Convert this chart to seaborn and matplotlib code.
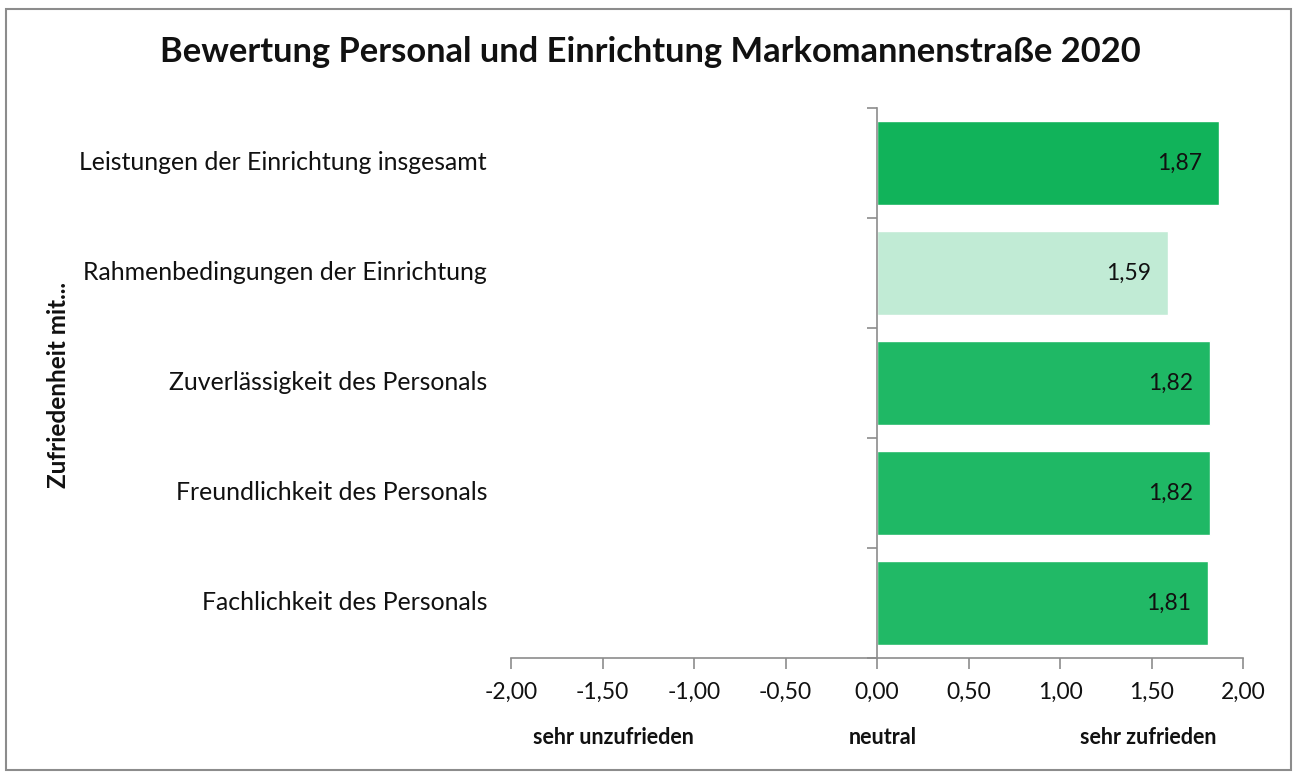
import matplotlib
matplotlib.use("Agg")
import matplotlib.pyplot as plt
import matplotlib.transforms as mtransforms
from matplotlib.patches import Rectangle
import seaborn as sns
import pandas as pd

categories = [
    "Leistungen der Einrichtung insgesamt",
    "Rahmenbedingungen der Einrichtung",
    "Zuverlässigkeit des Personals",
    "Freundlichkeit des Personals",
    "Fachlichkeit des Personals",
]
values = [1.87, 1.59, 1.82, 1.82, 1.81]
bar_colors = ["#11B35A", "#C1EBD5", "#1FB865", "#1FB865", "#21B966"]
x_ticks = [-2.0, -1.5, -1.0, -0.5, 0.0, 0.5, 1.0, 1.5, 2.0]
scale_labels = ["sehr unzufrieden", "neutral", "sehr zufrieden"]
scale_positions = [-1.44, 0.03, 1.48]

title = "Bewertung Personal und Einrichtung Markomannenstraße 2020"
y_title = "Zufriedenheit mit..."

sns.set_theme(style="white")
plt.rcParams["font.family"] = ["Lato", "DejaVu Sans"]

df = pd.DataFrame({"cat": categories, "val": values})

fig = plt.figure(figsize=(12.97, 7.74), dpi=100)
ax = fig.add_axes([511 / 1297, 1 - 658 / 774, (1243 - 511) / 1297, (658 - 108) / 774])

sns.barplot(data=df, x="val", y="cat", hue="cat", palette=bar_colors,
            legend=False, ax=ax, width=0.77, saturation=1, orient="h")

ax.set_xlim(-2, 2)
ax.set_ylim(4.5, -0.5)
ax.set_xticks(x_ticks)
ax.set_xticklabels([f"{t:.2f}".replace(".", ",") for t in x_ticks], fontsize=16.5,
                   color="#111111")
ax.tick_params(axis="x", direction="out", length=8, width=1.2, color="#8c8c8c",
               pad=9, bottom=True)
ax.set_xlabel("")
ax.set_ylabel("")

# y axis at zero with ticks between categories
ax.spines["left"].set_position(("data", 0))
for s in ["top", "right"]:
    ax.spines[s].set_visible(False)
for s in ["left", "bottom"]:
    ax.spines[s].set_color("#8c8c8c")
    ax.spines[s].set_linewidth(1.2)
ax.set_yticks([0, 1, 2, 3, 4])
ax.set_yticklabels([])
ax.set_yticks([-0.5, 0.5, 1.5, 2.5, 3.5, 4.5], minor=True)
ax.tick_params(axis="y", which="major", length=0, left=False)
ax.tick_params(axis="y", which="minor", direction="out", length=7, width=1.2,
               color="#8c8c8c", left=True)

# category labels at left
trans = mtransforms.blended_transform_factory(ax.transAxes, ax.transData)
for i, c in enumerate(categories):
    ax.text(-24 / 732, i, c, transform=trans, ha="right", va="center",
            fontsize=17.9, color="#111111")

# value labels
for i, v in enumerate(values):
    ax.annotate(f"{v:.2f}".replace(".", ","), xy=(v, i), xytext=(-12, 0),
                textcoords="offset points", ha="right", va="center",
                fontsize=16.5, color="#111111")

# scale descriptions
trans2 = mtransforms.blended_transform_factory(ax.transData, fig.transFigure)
for lbl, pos in zip(scale_labels, scale_positions):
    ax.text(pos, 1 - 738 / 774, lbl, transform=trans2, ha="center", va="center",
            fontsize=15.5, fontweight="bold", color="#111111")

fig.text(650 / 1297, 1 - 52 / 774, title, ha="center", va="center",
         fontsize=24.8, fontweight="bold", color="#111111")
fig.text(58 / 1297, 1 - 385 / 774, y_title, ha="center", va="center",
         rotation=90, fontsize=17.5, fontweight="bold", color="#111111")

fig.patches.append(Rectangle((6 / 1297, 4 / 774), 1285 / 1297, 761 / 774,
                             transform=fig.transFigure, fill=False,
                             edgecolor="#8c8c8c", linewidth=1.5))

fig.savefig("out.png", dpi=100)
